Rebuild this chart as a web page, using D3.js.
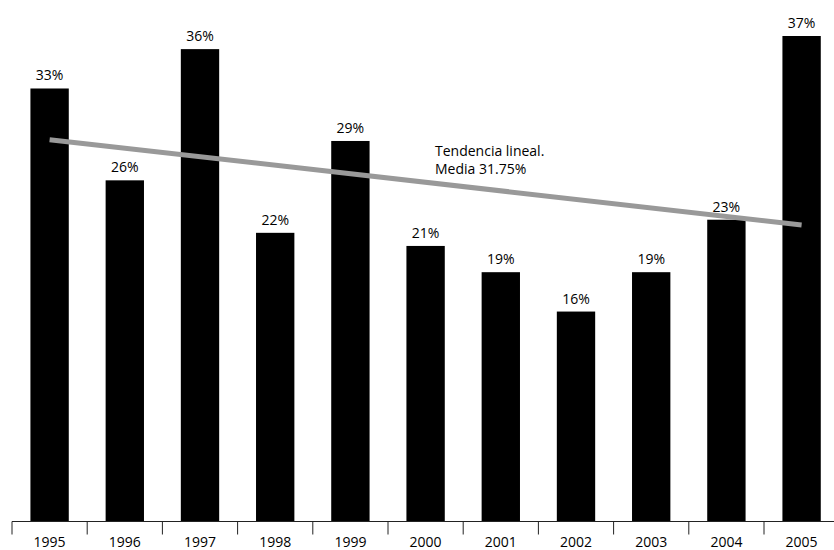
<!DOCTYPE html>
<html>
<head>
<meta charset="utf-8">
<style>
body { margin: 0; background: #fff; }
text { font-family: "Open Sans", "Noto Sans", sans-serif; fill: #000; }
</style>
</head>
<body>
<script src="https://cdn.jsdelivr.net/npm/d3@7"></script>
<script>
var years = ["1995","1996","1997","1998","1999","2000","2001","2002","2003","2004","2005"];
var values = [33, 26, 36, 22, 29, 21, 19, 16, 19, 23, 37];
var trendYears = ["1995", "2005"];
var trendValues = [29.1, 22.6];
var noteLines = ["Tendencia lineal.", "Media 31.75%"];

var width = 834, height = 550;

var svg = d3.select("body").append("svg")
    .attr("width", width)
    .attr("height", height);

// band per year, no padding: boundaries are the axis ticks
var x = d3.scaleBand().domain(years).range([12, 839.2]).padding(0);
var y = d3.scaleLinear().domain([0, 37]).range([521.5, 36]);
var barW = x.bandwidth() * 0.51;

svg.append("g")
  .selectAll("rect")
  .data(years)
  .enter().append("rect")
    .attr("x", function(d) { return x(d) + (x.bandwidth() - barW) / 2; })
    .attr("y", function(d, i) { return y(values[i]); })
    .attr("width", barW)
    .attr("height", function(d, i) { return y(0) - y(values[i]); })
    .attr("fill", "#000");

// value labels
svg.append("g")
  .selectAll("text")
  .data(years)
  .enter().append("text")
    .attr("x", function(d) { return x(d) + x.bandwidth() / 2; })
    .attr("y", function(d, i) { return y(values[i]) - 8; })
    .attr("text-anchor", "middle")
    .style("font-size", "14px")
    .text(function(d, i) { return values[i] + "%"; });

// axis: baseline plus tick at each band boundary
var axis = svg.append("g");
axis.append("line")
    .attr("x1", x.range()[0]).attr("x2", width)
    .attr("y1", y(0)).attr("y2", y(0))
    .attr("stroke", "#222").attr("stroke-width", 1);
axis.selectAll("line.tick")
  .data(years)
  .enter().append("line")
    .attr("class", "tick")
    .attr("x1", function(d) { return x(d); })
    .attr("x2", function(d) { return x(d); })
    .attr("y1", y(0)).attr("y2", y(0) + 13)
    .attr("stroke", "#222").attr("stroke-width", 1);
axis.selectAll("text")
  .data(years)
  .enter().append("text")
    .attr("x", function(d) { return x(d) + x.bandwidth() / 2; })
    .attr("y", 547)
    .attr("text-anchor", "middle")
    .style("font-size", "14px")
    .text(function(d) { return d; });

// trend line
var line = d3.line()
    .x(function(d, i) { return x(trendYears[i]) + x.bandwidth() / 2; })
    .y(function(d) { return y(d); });
svg.append("path")
    .attr("d", line(trendValues))
    .attr("fill", "none")
    .attr("stroke", "#999")
    .attr("stroke-width", 5);

svg.append("g")
  .selectAll("text")
  .data(noteLines)
  .enter().append("text")
    .attr("x", 435)
    .attr("y", function(d, i) { return 156 + i * 18; })
    .style("font-size", "14px")
    .text(function(d) { return d; });
</script>
</body>
</html>
